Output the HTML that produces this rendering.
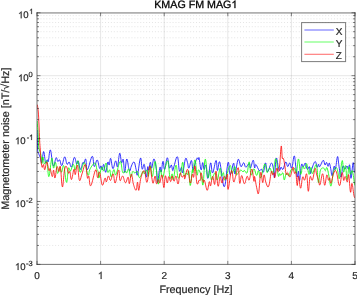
<!DOCTYPE html>
<html><head><meta charset="utf-8"><style>
html,body{margin:0;padding:0;background:#fff;}
svg{display:block;will-change:transform;}
text{font-family:"Liberation Sans",sans-serif;text-rendering:geometricPrecision;fill:#262626;stroke:#262626;stroke-width:0.2;}
</style></head><body>
<svg width="357" height="295" viewBox="0 0 357 295">
<rect width="357" height="295" fill="#fff"/>
<clipPath id="c"><rect x="37.0" y="12.75" width="318.0" height="251.64999999999998"/></clipPath>
<g stroke="#262626" stroke-opacity="0.11" stroke-width="1"><line x1="100.60" y1="12.75" x2="100.60" y2="264.40"/><line x1="164.20" y1="12.75" x2="164.20" y2="264.40"/><line x1="227.80" y1="12.75" x2="227.80" y2="264.40"/><line x1="291.40" y1="12.75" x2="291.40" y2="264.40"/><line x1="37.00" y1="201.49" x2="355.00" y2="201.49"/><line x1="37.00" y1="138.57" x2="355.00" y2="138.57"/><line x1="37.00" y1="75.66" x2="355.00" y2="75.66"/></g>
<g stroke="#262626" stroke-opacity="0.12" stroke-width="1" stroke-dasharray="1 1.935"><line x1="37.53" y1="245.46" x2="355.00" y2="245.46"/><line x1="37.53" y1="234.38" x2="355.00" y2="234.38"/><line x1="37.53" y1="226.52" x2="355.00" y2="226.52"/><line x1="37.53" y1="220.43" x2="355.00" y2="220.43"/><line x1="37.53" y1="215.44" x2="355.00" y2="215.44"/><line x1="37.53" y1="211.23" x2="355.00" y2="211.23"/><line x1="37.53" y1="207.58" x2="355.00" y2="207.58"/><line x1="37.53" y1="204.37" x2="355.00" y2="204.37"/><line x1="37.53" y1="182.55" x2="355.00" y2="182.55"/><line x1="37.53" y1="171.47" x2="355.00" y2="171.47"/><line x1="37.53" y1="163.61" x2="355.00" y2="163.61"/><line x1="37.53" y1="157.51" x2="355.00" y2="157.51"/><line x1="37.53" y1="152.53" x2="355.00" y2="152.53"/><line x1="37.53" y1="148.32" x2="355.00" y2="148.32"/><line x1="37.53" y1="144.67" x2="355.00" y2="144.67"/><line x1="37.53" y1="141.45" x2="355.00" y2="141.45"/><line x1="37.53" y1="119.64" x2="355.00" y2="119.64"/><line x1="37.53" y1="108.56" x2="355.00" y2="108.56"/><line x1="37.53" y1="100.70" x2="355.00" y2="100.70"/><line x1="37.53" y1="94.60" x2="355.00" y2="94.60"/><line x1="37.53" y1="89.62" x2="355.00" y2="89.62"/><line x1="37.53" y1="85.41" x2="355.00" y2="85.41"/><line x1="37.53" y1="81.76" x2="355.00" y2="81.76"/><line x1="37.53" y1="78.54" x2="355.00" y2="78.54"/><line x1="37.53" y1="56.72" x2="355.00" y2="56.72"/><line x1="37.53" y1="45.65" x2="355.00" y2="45.65"/><line x1="37.53" y1="37.79" x2="355.00" y2="37.79"/><line x1="37.53" y1="31.69" x2="355.00" y2="31.69"/><line x1="37.53" y1="26.71" x2="355.00" y2="26.71"/><line x1="37.53" y1="22.50" x2="355.00" y2="22.50"/><line x1="37.53" y1="18.85" x2="355.00" y2="18.85"/><line x1="37.53" y1="15.63" x2="355.00" y2="15.63"/></g>
<g clip-path="url(#c)">
<path d="M37.00 131.10C37.04 131.10 37.12 129.32 37.20 131.10C37.28 132.88 37.30 136.12 37.40 140.00C37.50 143.88 37.46 147.80 37.70 150.50C37.94 153.20 38.10 152.10 38.60 153.50C39.10 154.90 39.56 155.65 40.20 157.50C40.84 159.35 41.12 163.96 41.80 162.77C42.48 161.58 42.84 151.60 43.60 151.56C44.36 151.52 44.86 160.93 45.60 162.58C46.34 164.23 46.76 160.03 47.30 159.79C47.84 159.54 47.68 163.33 48.30 161.36C48.92 159.40 49.42 149.06 50.40 149.95C51.38 150.85 52.06 164.27 53.20 165.84C54.34 167.41 55.18 158.68 56.10 157.79C57.02 156.91 57.08 161.01 57.80 161.44C58.52 161.87 58.90 159.11 59.70 159.94C60.50 160.77 60.80 166.21 61.80 165.59C62.80 164.98 63.66 157.13 64.70 156.87C65.74 156.60 66.10 163.23 67.00 164.26C67.90 165.30 68.30 161.50 69.20 162.05C70.10 162.60 70.46 167.96 71.50 167.03C72.54 166.10 73.36 158.01 74.40 157.42C75.44 156.82 75.92 163.32 76.70 164.04C77.48 164.77 77.56 159.97 78.30 161.04C79.04 162.11 79.50 169.08 80.40 169.39C81.30 169.70 82.08 163.85 82.80 162.61C83.52 161.37 83.40 163.87 84.00 163.18C84.60 162.50 85.12 157.90 85.80 159.19C86.48 160.48 86.12 170.22 87.40 169.65C88.68 169.07 90.84 156.95 92.20 156.31C93.56 155.67 93.20 165.72 94.20 166.46C95.20 167.20 96.12 159.63 97.20 160.01C98.28 160.38 98.84 167.16 99.60 168.33C100.36 169.51 100.46 165.59 101.00 165.90C101.54 166.21 101.76 170.20 102.30 169.90C102.84 169.59 103.02 163.92 103.70 164.40C104.38 164.87 104.88 172.74 105.70 172.29C106.52 171.84 107.10 163.59 107.80 162.13C108.50 160.66 108.62 165.72 109.20 164.98C109.78 164.23 109.96 157.66 110.70 158.40C111.44 159.14 111.92 168.16 112.90 168.66C113.88 169.15 114.68 161.28 115.60 160.87C116.52 160.46 116.68 168.11 117.50 166.60C118.32 165.08 118.88 154.07 119.70 153.29C120.52 152.50 120.88 161.41 121.60 162.66C122.32 163.91 122.68 157.54 123.30 159.52C123.92 161.50 124.02 172.63 124.70 172.54C125.38 172.45 125.88 159.90 126.70 159.07C127.52 158.23 128.14 166.01 128.80 168.38C129.46 170.74 129.48 171.36 130.00 170.88C130.52 170.41 130.58 167.76 131.40 166.00C132.22 164.24 133.16 161.40 134.10 162.09C135.04 162.77 135.42 166.89 136.10 169.42C136.78 171.95 136.62 176.99 137.50 174.73C138.38 172.47 139.56 159.25 140.50 158.13C141.44 157.00 141.44 167.83 142.20 169.10C142.96 170.37 143.48 162.89 144.30 164.49C145.12 166.09 145.62 176.63 146.30 177.10C146.98 177.57 147.24 168.21 147.70 166.82C148.16 165.42 148.06 171.02 148.60 170.11C149.14 169.19 149.78 162.63 150.40 162.24C151.02 161.84 150.98 168.79 151.70 168.14C152.42 167.48 153.04 158.50 154.00 158.94C154.96 159.39 155.80 165.64 156.50 170.37C157.20 175.10 156.82 183.19 157.50 182.60C158.18 182.01 159.16 169.55 159.90 167.41C160.64 165.27 160.58 173.14 161.20 171.91C161.82 170.68 162.32 161.77 163.00 161.27C163.68 160.78 163.74 170.12 164.60 169.43C165.46 168.74 166.34 158.13 167.30 157.82C168.26 157.50 168.58 166.40 169.40 167.83C170.22 169.27 170.74 164.46 171.40 165.00C172.06 165.54 172.18 170.26 172.70 170.52C173.22 170.78 173.06 169.07 174.00 166.32C174.94 163.58 176.32 155.88 177.40 156.79C178.48 157.69 178.58 168.74 179.40 170.84C180.22 172.95 180.82 166.94 181.50 167.31C182.18 167.68 182.00 174.44 182.80 172.72C183.60 170.99 184.56 160.70 185.50 158.69C186.44 156.67 186.82 160.73 187.50 162.62C188.18 164.51 188.12 168.58 188.90 168.14C189.68 167.71 190.58 160.10 191.40 160.44C192.22 160.78 192.28 169.17 193.00 169.86C193.72 170.54 194.20 166.19 195.00 163.86C195.80 161.53 196.32 159.03 197.00 158.19C197.68 157.34 197.98 159.65 198.40 159.64C198.82 159.63 198.56 156.10 199.10 158.14C199.64 160.18 200.38 168.95 201.10 169.83C201.82 170.71 202.10 162.64 202.70 162.56C203.30 162.48 203.46 168.90 204.10 169.44C204.74 169.98 205.14 163.47 205.90 165.26C206.66 167.05 206.96 178.87 207.90 178.40C208.84 177.93 209.66 164.03 210.60 162.93C211.54 161.84 211.52 173.40 212.60 172.91C213.68 172.43 215.04 160.98 216.00 160.50C216.96 160.02 216.72 170.27 217.40 170.51C218.08 170.75 218.64 161.76 219.40 161.70C220.16 161.63 220.68 167.19 221.20 170.21C221.72 173.22 221.30 173.56 222.00 176.76C222.70 179.96 223.48 189.07 224.70 186.20C225.92 183.33 227.00 164.69 228.10 162.41C229.20 160.12 229.10 174.62 230.20 174.78C231.30 174.95 232.66 163.38 233.60 163.22C234.54 163.05 234.10 174.40 234.90 173.95C235.70 173.50 236.78 163.72 237.60 160.97C238.42 158.22 238.32 159.07 239.00 160.22C239.68 161.36 240.06 166.19 241.00 166.69C241.94 167.19 242.74 162.61 243.70 162.72C244.66 162.82 244.70 167.09 245.80 167.23C246.90 167.37 248.26 163.26 249.20 163.40C250.14 163.55 249.70 168.60 250.50 167.95C251.30 167.31 252.38 160.20 253.20 160.19C254.02 160.17 254.06 166.98 254.60 167.87C255.14 168.76 254.96 164.10 255.90 164.63C256.84 165.16 258.20 169.63 259.30 170.54C260.40 171.45 260.58 168.85 261.40 169.16C262.22 169.48 262.60 173.35 263.40 172.11C264.20 170.88 264.78 163.78 265.40 162.97C266.02 162.15 265.98 166.32 266.50 168.03C267.02 169.73 267.02 172.45 268.00 171.47C268.98 170.50 270.30 163.62 271.40 163.17C272.50 162.71 272.88 166.38 273.50 169.19C274.12 172.01 273.96 179.44 274.50 177.26C275.04 175.08 275.46 160.39 276.20 158.30C276.94 156.21 277.52 164.35 278.20 166.81C278.88 169.28 279.04 170.55 279.60 170.62C280.16 170.70 280.32 167.43 281.00 167.17C281.68 166.90 282.06 170.32 283.00 169.29C283.94 168.27 284.76 162.57 285.70 162.03C286.64 161.50 286.90 166.43 287.70 166.61C288.50 166.79 288.88 162.65 289.70 162.93C290.52 163.21 290.90 169.43 291.80 168.03C292.70 166.62 293.40 156.17 294.20 155.90C295.00 155.63 295.20 162.46 295.80 166.68C296.40 170.91 296.66 176.11 297.20 177.03C297.74 177.96 298.02 170.59 298.50 171.30C298.98 172.01 299.02 181.88 299.60 180.59C300.18 179.30 300.66 167.64 301.40 164.85C302.14 162.06 302.52 166.98 303.30 166.66C304.08 166.34 304.50 162.70 305.30 163.23C306.10 163.76 306.48 168.61 307.30 169.31C308.12 170.01 308.78 165.88 309.40 166.73C310.02 167.57 309.94 173.02 310.40 173.51C310.86 174.00 310.76 171.58 311.70 169.18C312.64 166.78 314.02 161.90 315.10 161.50C316.18 161.10 316.42 166.65 317.10 167.19C317.78 167.73 317.96 164.33 318.50 164.21C319.04 164.10 318.86 167.40 319.80 166.61C320.74 165.82 322.16 160.62 323.20 160.29C324.24 159.95 324.32 164.49 325.00 164.93C325.68 165.36 326.00 162.16 326.60 162.45C327.20 162.74 327.46 166.22 328.00 166.36C328.54 166.50 328.76 162.71 329.30 163.14C329.84 163.57 330.14 166.00 330.70 168.50C331.26 171.00 331.42 176.09 332.10 175.64C332.78 175.20 333.44 167.59 334.10 166.29C334.76 164.99 334.72 171.06 335.40 169.13C336.08 167.20 336.82 157.54 337.50 156.64C338.18 155.74 338.12 160.53 338.80 164.62C339.48 168.72 340.08 176.78 340.90 177.09C341.72 177.40 342.10 167.79 342.90 166.19C343.70 164.58 344.08 169.10 344.90 169.05C345.72 169.00 346.32 165.90 347.00 165.91C347.68 165.93 347.76 169.29 348.30 169.13C348.84 168.97 349.16 163.27 349.70 165.10C350.24 166.94 350.32 178.79 351.00 178.31C351.68 177.83 352.42 163.97 353.10 162.72C353.78 161.46 353.82 170.58 354.40 172.01C354.98 173.45 355.68 170.33 356.00 169.91" stroke="#0000ff" stroke-width="0.8" fill="none" stroke-linejoin="round"/>
<path d="M37.00 121.80C37.02 121.80 36.92 120.16 37.10 121.80C37.28 123.44 37.64 126.36 37.90 130.00C38.16 133.64 38.20 136.40 38.40 140.00C38.60 143.60 38.36 144.90 38.90 148.00C39.44 151.10 40.50 152.39 41.10 155.50C41.70 158.61 41.54 163.23 41.90 163.54C42.26 163.84 42.38 156.96 42.90 157.04C43.42 157.12 43.70 163.09 44.50 163.94C45.30 164.80 46.02 158.78 46.90 161.31C47.78 163.84 47.92 177.20 48.90 176.60C49.88 176.00 50.88 160.03 51.80 158.32C52.72 156.62 52.76 167.25 53.50 168.06C54.24 168.88 54.70 161.34 55.50 162.39C56.30 163.44 56.66 172.32 57.50 173.31C58.34 174.31 58.90 167.60 59.70 167.38C60.50 167.16 60.68 172.55 61.50 172.24C62.32 171.92 62.80 163.78 63.80 165.81C64.80 167.84 65.56 181.90 66.50 182.38C67.44 182.86 67.70 170.50 68.50 168.22C69.30 165.95 69.54 171.76 70.50 171.01C71.46 170.25 72.34 164.71 73.30 164.46C74.26 164.22 74.40 170.52 75.30 169.78C76.20 169.03 76.84 160.24 77.80 160.74C78.76 161.24 79.10 171.37 80.10 172.26C81.10 173.16 81.88 167.02 82.80 165.22C83.72 163.43 83.64 161.30 84.70 163.28C85.76 165.26 87.02 174.00 88.10 175.11C89.18 176.23 88.74 171.25 90.10 168.85C91.46 166.44 93.54 162.99 94.90 163.09C96.26 163.19 96.24 167.63 96.90 169.34C97.56 171.04 97.78 169.89 98.20 171.61C98.62 173.33 98.30 178.86 99.00 177.94C99.70 177.02 100.76 168.43 101.70 167.01C102.64 165.60 102.82 171.64 103.70 170.86C104.58 170.07 105.28 162.79 106.10 163.09C106.92 163.38 107.06 170.95 107.80 172.32C108.54 173.69 109.12 169.00 109.80 169.93C110.48 170.86 110.38 177.03 111.20 176.97C112.02 176.90 112.96 170.06 113.90 169.61C114.84 169.16 114.64 176.34 115.90 174.72C117.16 173.10 118.84 161.95 120.20 161.50C121.56 161.05 121.72 170.62 122.70 172.48C123.68 174.34 124.30 170.74 125.10 170.82C125.90 170.90 125.96 173.26 126.70 172.89C127.44 172.52 128.00 168.13 128.80 168.96C129.60 169.78 129.92 176.48 130.70 177.01C131.48 177.53 131.88 172.39 132.70 171.58C133.52 170.77 133.84 172.98 134.80 172.97C135.76 172.95 136.56 170.56 137.50 171.50C138.44 172.44 138.42 177.66 139.50 177.65C140.58 177.64 141.94 172.24 142.90 171.45C143.86 170.66 143.48 173.99 144.30 173.70C145.12 173.41 146.20 169.48 147.00 170.01C147.80 170.53 147.62 177.19 148.30 176.33C148.98 175.47 149.58 165.69 150.40 165.71C151.22 165.74 151.46 177.31 152.40 176.47C153.34 175.62 154.14 161.25 155.10 161.46C156.06 161.67 156.52 173.06 157.20 177.52C157.88 181.99 157.84 185.30 158.50 183.78C159.16 182.25 159.68 171.12 160.50 169.91C161.32 168.70 161.64 178.29 162.60 177.73C163.56 177.16 164.22 170.35 165.30 167.09C166.38 163.83 167.06 159.23 168.00 161.41C168.94 163.60 169.18 175.52 170.00 178.01C170.82 180.50 171.42 173.59 172.10 173.86C172.78 174.14 172.62 181.13 173.40 179.38C174.18 177.64 175.06 165.42 176.00 165.12C176.94 164.82 177.14 176.38 178.10 177.88C179.06 179.37 179.86 175.70 180.80 172.57C181.74 169.45 182.12 161.64 182.80 162.25C183.48 162.86 183.52 173.47 184.20 175.61C184.88 177.75 185.52 173.14 186.20 172.93C186.88 172.73 187.06 174.93 187.60 174.60C188.14 174.27 188.36 169.12 188.90 171.29C189.44 173.47 189.62 185.77 190.30 185.50C190.98 185.23 191.76 172.57 192.30 169.95C192.84 167.33 192.46 174.41 193.00 172.41C193.54 170.40 194.20 159.41 195.00 159.90C195.80 160.39 196.32 172.84 197.00 174.84C197.68 176.83 197.72 170.19 198.40 169.86C199.08 169.54 199.72 171.33 200.40 173.21C201.08 175.10 201.24 177.17 201.80 179.29C202.36 181.41 202.52 187.84 203.20 183.82C203.88 179.80 204.26 160.46 205.20 159.20C206.14 157.94 206.96 175.37 207.90 177.52C208.84 179.67 209.22 169.48 209.90 169.94C210.58 170.40 210.62 178.64 211.30 179.82C211.98 180.99 212.48 177.21 213.30 175.81C214.12 174.40 214.58 171.96 215.40 172.79C216.22 173.61 216.46 180.86 217.40 179.93C218.34 179.00 219.28 168.88 220.10 168.12C220.92 167.36 220.84 175.22 221.50 176.13C222.16 177.04 222.76 171.88 223.40 172.68C224.04 173.48 224.02 179.77 224.70 180.13C225.38 180.50 225.70 177.45 226.80 174.51C227.90 171.58 229.12 165.69 230.20 165.45C231.28 165.20 231.26 173.08 232.20 173.30C233.14 173.51 234.08 166.20 234.90 166.52C235.72 166.84 235.22 174.14 236.30 174.88C237.38 175.63 238.96 170.86 240.30 170.23C241.64 169.61 242.18 171.74 243.00 171.78C243.82 171.82 243.58 170.23 244.40 170.42C245.22 170.60 246.14 174.42 247.10 172.71C248.06 171.00 248.38 161.42 249.20 161.87C250.02 162.31 250.26 173.56 251.20 174.95C252.14 176.33 252.82 168.69 253.90 168.78C254.98 168.86 255.66 174.98 256.60 175.37C257.54 175.75 257.78 170.19 258.60 170.69C259.42 171.19 259.48 179.19 260.70 177.86C261.92 176.53 263.48 165.23 264.70 164.05C265.92 162.88 266.14 170.57 266.80 172.00C267.46 173.42 267.36 172.00 268.00 171.19C268.64 170.39 269.04 167.52 270.00 167.98C270.96 168.43 271.64 175.33 272.80 173.47C273.96 171.62 274.72 158.32 275.80 158.73C276.88 159.13 277.44 172.52 278.20 175.50C278.96 178.48 279.04 173.65 279.60 173.62C280.16 173.58 280.32 175.46 281.00 175.33C281.68 175.19 282.34 172.01 283.00 172.93C283.66 173.85 283.64 179.86 284.30 179.95C284.96 180.03 285.36 174.17 286.30 173.36C287.24 172.55 288.06 176.62 289.00 175.90C289.94 175.17 290.10 170.91 291.00 169.75C291.90 168.59 292.70 170.38 293.50 170.08C294.30 169.79 294.40 167.69 295.00 168.27C295.60 168.86 295.80 174.87 296.50 173.01C297.20 171.14 297.68 158.70 298.50 158.95C299.32 159.20 299.78 172.77 300.60 174.27C301.42 175.77 301.80 167.53 302.60 166.47C303.40 165.40 303.78 169.49 304.60 168.94C305.42 168.38 305.82 162.63 306.70 163.71C307.58 164.78 308.14 173.58 309.00 174.32C309.86 175.07 310.32 167.55 311.00 167.41C311.68 167.27 311.44 174.15 312.40 173.62C313.36 173.09 314.86 165.78 315.80 164.77C316.74 163.76 316.56 164.98 317.10 168.58C317.64 172.17 317.82 182.41 318.50 182.74C319.18 183.06 319.46 173.12 320.50 170.20C321.54 167.28 322.74 168.02 323.70 168.11C324.66 168.21 324.64 170.75 325.30 170.68C325.96 170.60 326.26 166.58 327.00 167.71C327.74 168.85 328.20 172.68 329.00 176.36C329.80 180.03 330.12 186.83 331.00 186.10C331.88 185.37 332.34 176.43 333.40 172.71C334.46 168.99 335.34 167.36 336.30 167.48C337.26 167.61 337.56 171.20 338.20 173.32C338.84 175.44 338.70 180.63 339.50 178.10C340.30 175.56 341.38 161.83 342.20 160.65C343.02 159.46 342.92 171.15 343.60 172.16C344.28 173.18 344.92 164.21 345.60 165.73C346.28 167.24 346.32 179.52 347.00 179.72C347.68 179.92 348.32 167.81 349.00 166.73C349.68 165.65 349.72 173.46 350.40 174.31C351.08 175.16 351.54 168.95 352.40 170.99C353.26 173.03 353.98 181.96 354.70 184.51C355.42 187.06 355.74 183.89 356.00 183.73" stroke="#00ff00" stroke-width="0.8" fill="none" stroke-linejoin="round"/>
<path d="M37.00 105.40C37.08 105.40 37.14 104.08 37.40 105.40C37.66 106.72 37.98 108.08 38.30 112.00C38.62 115.92 38.74 119.40 39.00 125.00C39.26 130.60 39.34 135.00 39.60 140.00C39.86 145.00 40.08 146.40 40.30 150.00C40.52 153.60 40.34 154.57 40.70 158.00C41.06 161.43 41.54 165.82 42.10 167.14C42.66 168.46 42.96 164.08 43.50 164.60C44.04 165.12 44.14 170.23 44.80 169.72C45.46 169.22 45.98 161.91 46.80 162.06C47.62 162.22 48.22 169.17 48.90 170.50C49.58 171.84 49.52 167.53 50.20 168.75C50.88 169.97 51.62 176.34 52.30 176.61C52.98 176.87 53.06 169.82 53.60 170.09C54.14 170.37 54.32 178.65 55.00 177.97C55.68 177.29 56.20 167.98 57.00 166.70C57.80 165.41 58.32 171.52 59.00 171.53C59.68 171.54 59.72 163.68 60.40 166.75C61.08 169.82 61.58 186.25 62.40 186.90C63.22 187.55 63.68 174.04 64.50 169.98C65.32 165.91 65.70 165.94 66.50 166.58C67.30 167.22 67.82 172.17 68.50 173.18C69.18 174.19 69.30 170.36 69.90 171.63C70.50 172.90 70.68 180.03 71.50 179.53C72.32 179.04 73.24 170.16 74.00 169.17C74.76 168.17 74.62 175.36 75.30 174.56C75.98 173.77 76.58 164.04 77.40 165.20C78.22 166.36 78.48 178.61 79.40 180.35C80.32 182.08 80.80 177.05 82.00 173.87C83.20 170.70 84.32 163.69 85.40 164.48C86.48 165.26 86.72 175.44 87.40 177.79C88.08 180.14 88.12 174.65 88.80 176.23C89.48 177.81 89.44 186.95 90.80 185.70C92.16 184.45 94.24 171.57 95.60 169.97C96.96 168.36 96.80 177.22 97.60 177.67C98.40 178.12 98.66 170.72 99.60 172.21C100.54 173.70 101.22 183.94 102.30 185.11C103.38 186.29 104.18 178.75 105.00 178.09C105.82 177.44 105.72 182.26 106.40 181.82C107.08 181.39 107.58 176.17 108.40 175.91C109.22 175.66 109.54 180.94 110.50 180.53C111.46 180.11 112.26 173.32 113.20 173.82C114.14 174.31 114.12 183.79 115.20 183.01C116.28 182.23 117.64 170.39 118.60 169.91C119.56 169.42 119.18 179.37 120.00 180.59C120.82 181.81 121.62 175.58 122.70 176.02C123.78 176.46 124.32 182.55 125.40 182.78C126.48 183.01 127.30 177.00 128.10 177.17C128.90 177.34 128.74 184.24 129.40 183.62C130.06 183.00 130.60 174.00 131.40 174.08C132.20 174.17 132.46 180.81 133.40 184.04C134.34 187.27 135.28 190.60 136.10 190.23C136.92 189.86 136.96 182.15 137.50 182.17C138.04 182.19 138.12 191.16 138.80 190.32C139.48 189.47 139.80 181.84 140.90 177.94C142.00 174.03 143.08 169.95 144.30 170.81C145.52 171.66 145.92 183.12 147.00 182.22C148.08 181.32 148.76 167.38 149.70 166.33C150.64 165.28 151.02 173.59 151.70 176.97C152.38 180.34 152.42 183.38 153.10 183.21C153.78 183.04 154.42 175.99 155.10 176.09C155.78 176.20 155.82 183.03 156.50 183.74C157.18 184.44 157.82 179.80 158.50 179.62C159.18 179.45 159.22 183.78 159.90 182.86C160.58 181.94 161.10 174.08 161.90 175.02C162.70 175.97 163.22 187.42 163.90 187.57C164.58 187.73 164.62 176.74 165.30 175.81C165.98 174.89 166.62 182.80 167.30 182.96C167.98 183.13 168.02 176.92 168.70 176.64C169.38 176.36 170.02 181.72 170.70 181.57C171.38 181.43 171.44 175.97 172.10 175.91C172.76 175.85 173.22 181.24 174.00 181.27C174.78 181.30 175.18 175.52 176.00 176.06C176.82 176.61 177.28 184.57 178.10 183.98C178.92 183.40 179.30 174.51 180.10 173.15C180.90 171.80 181.28 176.82 182.10 177.22C182.92 177.61 183.66 174.80 184.20 175.12C184.74 175.45 184.12 180.00 184.80 178.86C185.48 177.72 186.50 168.60 187.60 169.41C188.70 170.23 189.36 181.98 190.30 182.94C191.24 183.90 191.62 175.39 192.30 174.22C192.98 173.04 193.16 178.71 193.70 177.08C194.24 175.46 194.34 164.84 195.00 166.10C195.66 167.37 196.18 180.62 197.00 183.41C197.82 186.21 198.42 180.76 199.10 180.09C199.78 179.42 200.00 181.53 200.40 180.07C200.80 178.62 200.54 172.40 201.10 172.80C201.66 173.20 202.52 180.53 203.20 182.06C203.88 183.59 203.70 178.78 204.50 180.43C205.30 182.07 206.24 190.03 207.20 190.30C208.16 190.56 208.62 182.62 209.30 181.74C209.98 180.85 209.94 186.93 210.60 185.85C211.26 184.77 211.78 176.62 212.60 176.34C213.42 176.05 214.02 185.45 214.70 184.42C215.38 183.39 215.32 170.83 216.00 171.18C216.68 171.54 217.28 185.09 218.10 186.19C218.92 187.30 219.32 177.33 220.10 176.72C220.88 176.10 221.20 183.15 222.00 183.12C222.80 183.09 223.28 177.34 224.10 176.57C224.92 175.81 225.42 179.69 226.10 179.28C226.78 178.87 227.10 172.50 227.50 174.53C227.90 176.55 227.30 190.16 228.10 189.39C228.90 188.62 230.40 172.19 231.50 170.66C232.60 169.14 232.78 180.64 233.60 181.79C234.42 182.95 234.66 179.23 235.60 176.44C236.54 173.64 237.48 166.44 238.30 167.80C239.12 169.17 239.02 181.72 239.70 183.27C240.38 184.82 240.76 175.47 241.70 175.56C242.64 175.66 243.32 183.60 244.40 183.75C245.48 183.90 246.14 177.03 247.10 176.30C248.06 175.56 248.24 181.52 249.20 180.07C250.16 178.62 250.96 168.84 251.90 169.07C252.84 169.30 253.36 179.74 253.90 181.22C254.44 182.71 254.06 175.31 254.60 176.51C255.14 177.71 255.80 183.93 256.60 187.24C257.40 190.55 257.78 196.01 258.60 193.05C259.42 190.09 259.88 174.54 260.70 172.45C261.52 170.36 262.02 182.11 262.70 182.60C263.38 183.09 263.42 174.80 264.10 174.89C264.78 174.99 265.18 180.83 266.10 183.08C267.02 185.33 267.64 188.46 268.70 186.16C269.76 183.87 270.58 173.83 271.40 171.61C272.22 169.40 272.26 174.84 272.80 175.08C273.34 175.33 273.70 172.29 274.10 172.83C274.50 173.37 274.26 178.72 274.80 177.79C275.34 176.87 276.12 169.46 276.80 168.21C277.48 166.96 277.64 171.98 278.20 171.54C278.76 171.10 279.00 171.09 279.60 166.00C280.20 160.91 280.66 147.70 281.20 146.10C281.74 144.50 281.82 155.42 282.30 158.00C282.78 160.58 283.06 157.20 283.60 159.00C284.14 160.80 284.46 163.85 285.00 167.00C285.54 170.15 285.76 173.62 286.30 174.77C286.84 175.92 287.02 172.32 287.70 172.75C288.38 173.18 289.02 176.65 289.70 176.93C290.38 177.21 290.42 176.12 291.10 174.15C291.78 172.19 292.44 167.26 293.10 167.10C293.76 166.95 293.86 172.31 294.40 173.38C294.94 174.44 295.24 170.03 295.80 172.45C296.36 174.88 296.66 184.74 297.20 185.49C297.74 186.23 297.82 175.63 298.50 176.17C299.18 176.71 299.78 188.03 300.60 188.20C301.42 188.37 301.80 178.62 302.60 177.02C303.40 175.41 303.78 180.75 304.60 180.18C305.42 179.60 305.96 171.93 306.70 174.15C307.44 176.37 307.62 190.76 308.30 191.29C308.98 191.81 309.28 178.99 310.10 176.76C310.92 174.53 311.40 181.77 312.40 180.13C313.40 178.49 314.28 169.78 315.10 168.54C315.92 167.30 315.82 171.58 316.50 173.93C317.18 176.28 317.80 178.12 318.50 180.30C319.20 182.48 319.18 186.13 320.00 184.81C320.82 183.50 321.66 173.63 322.60 173.72C323.54 173.81 323.86 185.02 324.70 185.26C325.54 185.51 326.04 175.96 326.80 174.96C327.56 173.95 327.92 179.66 328.50 180.24C329.08 180.82 329.20 177.27 329.70 177.84C330.20 178.42 330.20 184.02 331.00 183.09C331.80 182.16 332.64 175.49 333.70 173.21C334.76 170.92 335.14 169.18 336.30 171.66C337.46 174.15 338.34 185.44 339.50 185.64C340.66 185.84 341.26 173.72 342.10 172.68C342.94 171.63 343.08 179.65 343.70 180.41C344.32 181.16 344.48 176.14 345.20 176.46C345.92 176.78 346.60 182.31 347.30 181.99C348.00 181.67 348.06 172.82 348.70 174.85C349.34 176.87 349.84 190.38 350.50 192.10C351.16 193.83 351.26 182.60 352.00 183.49C352.74 184.37 353.40 193.91 354.20 196.54C355.00 199.17 355.64 196.62 356.00 196.65" stroke="#ff0000" stroke-width="0.8" fill="none" stroke-linejoin="round"/>
</g>
<g stroke="#262626" stroke-opacity="0.55" stroke-width="1" fill="none"><path d="M37.00 264.40v-3.5"/><path d="M37.00 12.75v3.5"/><path d="M100.60 264.40v-3.5"/><path d="M100.60 12.75v3.5"/><path d="M164.20 264.40v-3.5"/><path d="M164.20 12.75v3.5"/><path d="M227.80 264.40v-3.5"/><path d="M227.80 12.75v3.5"/><path d="M291.40 264.40v-3.5"/><path d="M291.40 12.75v3.5"/><path d="M355.00 264.40v-3.5"/><path d="M355.00 12.75v3.5"/><path d="M37.00 264.40h3.5"/><path d="M355.00 264.40h-3.5"/><path d="M37.00 201.49h3.5"/><path d="M355.00 201.49h-3.5"/><path d="M37.00 138.57h3.5"/><path d="M355.00 138.57h-3.5"/><path d="M37.00 75.66h3.5"/><path d="M355.00 75.66h-3.5"/><path d="M37.00 12.75h3.5"/><path d="M355.00 12.75h-3.5"/><path d="M37.00 245.46h2"/><path d="M355.00 245.46h-2"/><path d="M37.00 234.38h2"/><path d="M355.00 234.38h-2"/><path d="M37.00 226.52h2"/><path d="M355.00 226.52h-2"/><path d="M37.00 220.43h2"/><path d="M355.00 220.43h-2"/><path d="M37.00 215.44h2"/><path d="M355.00 215.44h-2"/><path d="M37.00 211.23h2"/><path d="M355.00 211.23h-2"/><path d="M37.00 207.58h2"/><path d="M355.00 207.58h-2"/><path d="M37.00 204.37h2"/><path d="M355.00 204.37h-2"/><path d="M37.00 182.55h2"/><path d="M355.00 182.55h-2"/><path d="M37.00 171.47h2"/><path d="M355.00 171.47h-2"/><path d="M37.00 163.61h2"/><path d="M355.00 163.61h-2"/><path d="M37.00 157.51h2"/><path d="M355.00 157.51h-2"/><path d="M37.00 152.53h2"/><path d="M355.00 152.53h-2"/><path d="M37.00 148.32h2"/><path d="M355.00 148.32h-2"/><path d="M37.00 144.67h2"/><path d="M355.00 144.67h-2"/><path d="M37.00 141.45h2"/><path d="M355.00 141.45h-2"/><path d="M37.00 119.64h2"/><path d="M355.00 119.64h-2"/><path d="M37.00 108.56h2"/><path d="M355.00 108.56h-2"/><path d="M37.00 100.70h2"/><path d="M355.00 100.70h-2"/><path d="M37.00 94.60h2"/><path d="M355.00 94.60h-2"/><path d="M37.00 89.62h2"/><path d="M355.00 89.62h-2"/><path d="M37.00 85.41h2"/><path d="M355.00 85.41h-2"/><path d="M37.00 81.76h2"/><path d="M355.00 81.76h-2"/><path d="M37.00 78.54h2"/><path d="M355.00 78.54h-2"/><path d="M37.00 56.72h2"/><path d="M355.00 56.72h-2"/><path d="M37.00 45.65h2"/><path d="M355.00 45.65h-2"/><path d="M37.00 37.79h2"/><path d="M355.00 37.79h-2"/><path d="M37.00 31.69h2"/><path d="M355.00 31.69h-2"/><path d="M37.00 26.71h2"/><path d="M355.00 26.71h-2"/><path d="M37.00 22.50h2"/><path d="M355.00 22.50h-2"/><path d="M37.00 18.85h2"/><path d="M355.00 18.85h-2"/><path d="M37.00 15.63h2"/><path d="M355.00 15.63h-2"/></g>
<g stroke="#262626" stroke-opacity="0.65" stroke-width="1"><line x1="37.00" y1="12.25" x2="37.00" y2="264.90"/><line x1="355.00" y1="12.25" x2="355.00" y2="264.90"/><line x1="36.50" y1="12.95" x2="355.50" y2="12.95"/><line x1="36.50" y1="264.40" x2="355.50" y2="264.40"/></g>
<text x="34.22" y="278.90" font-size="10">0</text>
<path d="M763 0L583 0L583 1147C518 1085 307 961 223 930L223 1104C374 1175 600 1377 647 1472L763 1472Z" transform="translate(97.82 278.90) scale(0.00488 -0.00488)" fill="#262626" stroke="#262626" stroke-width="0.2" vector-effect="non-scaling-stroke"/>
<text x="161.42" y="278.90" font-size="10">2</text>
<text x="225.02" y="278.90" font-size="10">3</text>
<text x="288.62" y="278.90" font-size="10">4</text>
<text x="352.22" y="278.90" font-size="10">5</text>
<path d="M763 0L583 0L583 1147C518 1085 307 961 223 930L223 1104C374 1175 600 1377 647 1472L763 1472Z" transform="translate(14.92 270.00) scale(0.00469 -0.00469)" fill="#262626" stroke="#262626" stroke-width="0.2" vector-effect="non-scaling-stroke"/><text x="20.26" y="270.00" font-size="9.6">0</text>
<text x="26.03" y="265.70" font-size="7.5">-3</text>
<path d="M763 0L583 0L583 1147C518 1085 307 961 223 930L223 1104C374 1175 600 1377 647 1472L763 1472Z" transform="translate(14.92 207.09) scale(0.00469 -0.00469)" fill="#262626" stroke="#262626" stroke-width="0.2" vector-effect="non-scaling-stroke"/><text x="20.26" y="207.09" font-size="9.6">0</text>
<text x="26.03" y="202.79" font-size="7.5">-2</text>
<path d="M763 0L583 0L583 1147C518 1085 307 961 223 930L223 1104C374 1175 600 1377 647 1472L763 1472Z" transform="translate(14.92 144.17) scale(0.00469 -0.00469)" fill="#262626" stroke="#262626" stroke-width="0.2" vector-effect="non-scaling-stroke"/><text x="20.26" y="144.17" font-size="9.6">0</text>
<text x="26.63" y="139.88" font-size="7.5">-</text><path d="M763 0L583 0L583 1147C518 1085 307 961 223 930L223 1104C374 1175 600 1377 647 1472L763 1472Z" transform="translate(29.13 139.88) scale(0.00366 -0.00366)" fill="#262626" stroke="#262626" stroke-width="0.2" vector-effect="non-scaling-stroke"/>
<path d="M763 0L583 0L583 1147C518 1085 307 961 223 930L223 1104C374 1175 600 1377 647 1472L763 1472Z" transform="translate(18.02 81.26) scale(0.00469 -0.00469)" fill="#262626" stroke="#262626" stroke-width="0.2" vector-effect="non-scaling-stroke"/><text x="23.36" y="81.26" font-size="9.6">0</text>
<text x="28.53" y="76.96" font-size="7.5">0</text>
<path d="M763 0L583 0L583 1147C518 1085 307 961 223 930L223 1104C374 1175 600 1377 647 1472L763 1472Z" transform="translate(18.02 18.35) scale(0.00469 -0.00469)" fill="#262626" stroke="#262626" stroke-width="0.2" vector-effect="non-scaling-stroke"/><text x="23.36" y="18.35" font-size="9.6">0</text>
<path d="M763 0L583 0L583 1147C518 1085 307 961 223 930L223 1104C374 1175 600 1377 647 1472L763 1472Z" transform="translate(29.13 14.05) scale(0.00366 -0.00366)" fill="#262626" stroke="#262626" stroke-width="0.2" vector-effect="non-scaling-stroke"/>
<text x="154.23" y="8.1" font-size="10.7" style="fill:#000;stroke:#000;stroke-width:0.3">KMAG FM MAG</text>
<path d="M763 0L583 0L583 1147C518 1085 307 961 223 930L223 1104C374 1175 600 1377 647 1472L763 1472Z" transform="translate(231.42 8.10) scale(0.00522 -0.00522)" fill="#000" stroke="#000" stroke-width="0.3" vector-effect="non-scaling-stroke"/>
<text x="196" y="292.6" text-anchor="middle" font-size="10.8">Frequency [Hz]</text>
<text transform="translate(8.8 138.6) rotate(-90)" text-anchor="middle" font-size="10.8">Magnetometer noise [nT/√Hz]</text>
<g>
<rect x="301.6" y="22.6" width="44" height="39.0" fill="#fff" stroke="#262626" stroke-opacity="0.6" stroke-width="1"/>
<g stroke-width="1.1" stroke-opacity="0.55">
<line x1="304.4" y1="30.0" x2="333.8" y2="30.0" stroke="#0000ff"/>
<line x1="304.4" y1="42.0" x2="333.8" y2="42.0" stroke="#00ff00"/>
<line x1="304.4" y1="54.3" x2="333.8" y2="54.3" stroke="#ff0000"/>
</g>
<text x="335.8" y="34.6" font-size="10">X</text>
<text x="335.8" y="46.6" font-size="10">Y</text>
<text x="335.8" y="58.6" font-size="10">Z</text>
</g>
</svg>
</body></html>
